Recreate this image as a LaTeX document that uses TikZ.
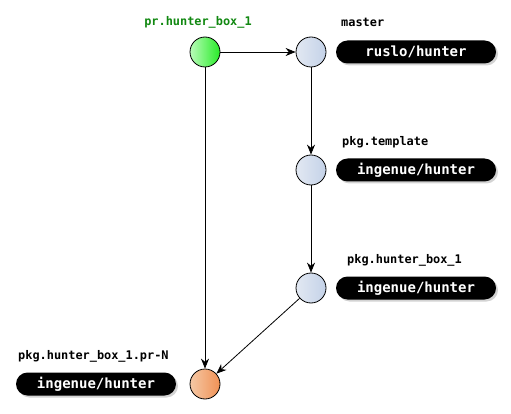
\documentclass[tikz,border=0pt]{standalone}
\usepackage{fontspec}
\setmonofont{DejaVu Sans Mono}
\usetikzlibrary{shadows,arrows.meta}
\definecolor{lblgreen}{HTML}{118811}
\tikzset{
  commit/.style={circle, draw=black, line width=0.8pt, minimum size=30pt, inner sep=0pt},
  bluec/.style={commit, left color={rgb,255:red,226;green,232;blue,242}, right color={rgb,255:red,196;green,210;blue,232}},
  greenc/.style={commit, left color={rgb,255:red,185;green,252;blue,185}, right color={rgb,255:red,40;green,235;blue,40}},
  orangec/.style={commit, left color={rgb,255:red,245;green,200;blue,165}, right color={rgb,255:red,240;green,145;blue,85}},
  pill/.style={rounded corners=11.5pt, fill=black, text=white, minimum width=160pt, minimum height=23pt, inner sep=0pt,
    font=\fontsize{14}{15}\ttfamily\bfseries, drop shadow={shadow xshift=2pt, shadow yshift=-2pt, opacity=0.35}},
  lbl/.style={font=\fontsize{11.9}{13}\ttfamily\bfseries, inner sep=0pt},
  conn/.style={-{Stealth[length=10pt,width=8pt]}, line width=0.8pt},
}
\begin{document}
\begin{tikzpicture}[x=1pt,y=-1pt]
\useasboundingbox (0,0) rectangle (511,414);
\node[greenc] (g) at (205,52) {};
\node[bluec] (m) at (311,52) {};
\node[bluec] (t) at (311,170) {};
\node[bluec] (h) at (311,288) {};
\node[orangec] (o) at (205,384) {};
\node[lbl, text=lblgreen] (gl) at (198,22) {pr.hunter\_box\_1};
\node[lbl, anchor=west] (ml) at (341,22) {master};
\node[lbl, anchor=west] (tl) at (342,142) {pkg.template};
\node[lbl, anchor=west] (hl) at (347,260) {pkg.hunter\_box\_1};
\node[lbl, anchor=west] (ol) at (18,356) {pkg.hunter\_box\_1.pr-N};
\node[pill] (mp) at (416,52) {ruslo/hunter};
\node[pill] (tp) at (416,170) {ingenue/hunter};
\node[pill] (hp) at (416,288) {ingenue/hunter};
\node[pill] (op) at (96,384) {ingenue/hunter};
\draw[conn] (g) -- (m);
\draw[conn] (g) -- (o);
\draw[conn] (m) -- (t);
\draw[conn] (t) -- (h);
\draw[conn] (h) -- (o);
\end{tikzpicture}
\end{document}
